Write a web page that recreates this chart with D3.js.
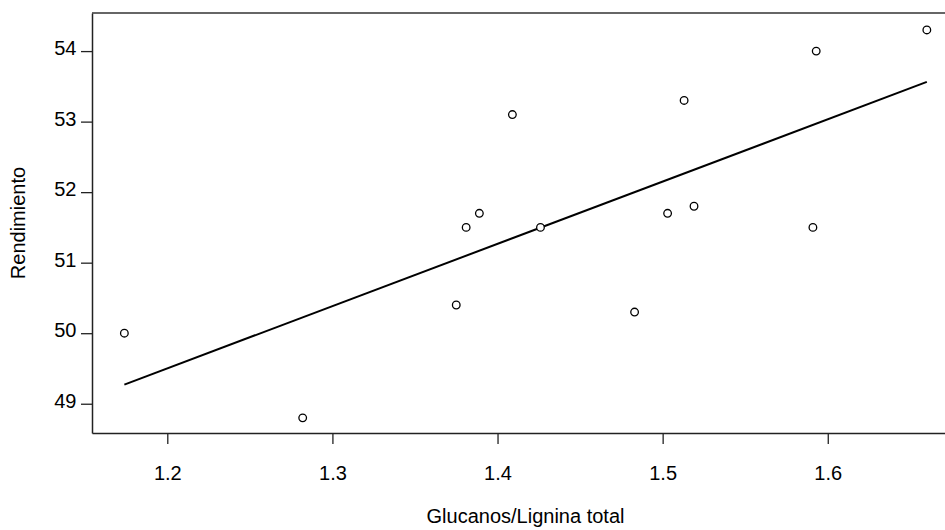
<!DOCTYPE html>
<html>
<head>
<meta charset="utf-8">
<script src="https://cdn.jsdelivr.net/npm/d3@7"></script>
<style>
  body { margin: 0; background: #fff; }
  svg { display: block; font-family: "Liberation Sans", Arial, sans-serif; }
  .tick text { font-size: 20px; fill: #000; }
  .axisText { font-size: 20px; fill: #000; }
</style>
</head>
<body>
<script>
// data
var glucLignina = [1.174, 1.282, 1.375, 1.381, 1.389, 1.409, 1.426, 1.483, 1.503, 1.513, 1.519, 1.591, 1.593, 1.660];
var rendimiento = [50.0, 48.8, 50.4, 51.5, 51.7, 53.1, 51.5, 50.3, 51.7, 53.3, 51.8, 51.5, 54.0, 54.3];
var xTicks = [1.2, 1.3, 1.4, 1.5, 1.6];
var yTicks = [49, 50, 51, 52, 53, 54];

var svgWidth = 945;
var svgHeight = 530;
var margin = { top: 13, right: 0, bottom: 97, left: 92 };
var chartwidth = svgWidth - margin.left - margin.right;
var chartheight = svgHeight - margin.top - margin.bottom;

var svg = d3.select("body")
  .append("svg")
  .attr("width", svgWidth)
  .attr("height", svgHeight);

var chartGroup = svg.append("g")
  .attr("transform", `translate(${margin.left}, ${margin.top})`);

var points = glucLignina.map(function(x, i) {
  return { x: x, y: rendimiento[i] };
});

// scales
var xLinearScale = d3.scaleLinear()
  .domain([1.1544, 1.6710])
  .range([0, chartwidth]);

var yLinearScale = d3.scaleLinear()
  .domain([48.585, 54.54])
  .range([chartheight, 0]);

// axes
var bottomAxis = d3.axisBottom(xLinearScale)
  .tickValues(xTicks)
  .tickSize(11)
  .tickSizeOuter(0)
  .tickFormat(d3.format(".1f"));

var leftAxis = d3.axisLeft(yLinearScale)
  .tickValues(yTicks)
  .tickSize(11)
  .tickSizeOuter(0)
  .tickPadding(4.5)
  .tickFormat(d3.format("d"));

var xAxisG = chartGroup.append("g")
  .attr("transform", `translate(0, ${chartheight})`)
  .call(bottomAxis);
xAxisG.selectAll(".tick text").attr("y", 47).attr("dy", 0);

var yAxisG = chartGroup.append("g")
  .call(leftAxis);
yAxisG.selectAll(".tick text").attr("dy", "0.17em");

svg.selectAll(".domain").attr("stroke", "#222").attr("stroke-width", 1.5);
svg.selectAll(".tick line").attr("stroke", "#222").attr("stroke-width", 1.3);

// top frame line
chartGroup.append("line")
  .attr("x1", 0)
  .attr("x2", chartwidth)
  .attr("y1", 0)
  .attr("y2", 0)
  .attr("stroke", "#333")
  .attr("stroke-width", 1.5);

// least squares fit
var mx = d3.mean(points, d => d.x);
var my = d3.mean(points, d => d.y);
var sxy = d3.sum(points, d => (d.x - mx) * (d.y - my));
var sxx = d3.sum(points, d => (d.x - mx) * (d.x - mx));
var slope = sxy / sxx;
var intercept = my - slope * mx;
var xExt = d3.extent(points, d => d.x);

chartGroup.append("line")
  .attr("x1", xLinearScale(xExt[0]))
  .attr("y1", yLinearScale(intercept + slope * xExt[0]))
  .attr("x2", xLinearScale(xExt[1]))
  .attr("y2", yLinearScale(intercept + slope * xExt[1]))
  .attr("stroke", "#000")
  .attr("stroke-width", 2);

// points
chartGroup.selectAll("circle")
  .data(points)
  .enter()
  .append("circle")
  .attr("cx", d => xLinearScale(d.x))
  .attr("cy", d => yLinearScale(d.y))
  .attr("r", 3.8)
  .attr("fill", "#fff")
  .attr("stroke", "#000")
  .attr("stroke-width", 1.3);

// axis labels
svg.append("text")
  .attr("class", "axisText")
  .attr("text-anchor", "middle")
  .attr("x", 525.5)
  .attr("y", 523)
  .text("Glucanos/Lignina total");

svg.append("text")
  .attr("class", "axisText")
  .attr("text-anchor", "middle")
  .attr("transform", "translate(25, 223) rotate(-90)")
  .text("Rendimiento");
</script>
</body>
</html>
